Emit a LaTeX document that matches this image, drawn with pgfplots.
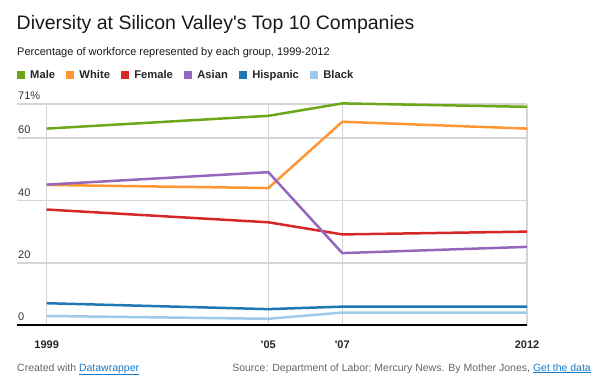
\documentclass[border=0pt]{standalone}
\usepackage{pgfplots}
\pgfplotsset{compat=1.18}
\usepackage{fontspec}
\setmainfont{Liberation Sans}
\definecolor{cMale}{HTML}{6AA819}
\definecolor{cWhite}{HTML}{FF9632}
\definecolor{cFemale}{HTML}{D62728}
\definecolor{cAsian}{HTML}{9467BD}
\definecolor{cHisp}{HTML}{1F77B4}
\definecolor{cBlack}{HTML}{9ECAE9}
\definecolor{gridc}{HTML}{D5D5D5}
\definecolor{linkc}{HTML}{1A7AC4}
\definecolor{foot}{HTML}{666666}
\begin{document}
\begin{tikzpicture}
\useasboundingbox (0,0) rectangle (599bp,-388bp);
\begin{axis}[
 at={(17bp,-325bp)}, anchor=south west,
 scale only axis, width=510bp, height=221bp,
 xmin=1998.196, xmax=2012, ymin=0, ymax=71,
 clip=false,
 axis line style={draw=none},
 major tick length=0pt,
 xtick={1999,2005,2007,2012},
 xticklabels={1999,\textquotesingle05,\textquotesingle07,2012},
 ytick={20,40,60,71},
 yticklabels={20,40,60,71\%},
 extra y ticks={0}, extra y tick labels={0},
 extra y tick style={grid style={black, line width=1.5bp}},
 grid style={gridc, line width=1.5bp},
 xmajorgrids, ymajorgrids,
 xticklabel style={font=\fontsize{11bp}{13bp}\selectfont\bfseries, text=black!85, anchor=north, inner sep=0pt, yshift=-16bp},
 yticklabel style={font=\fontsize{11bp}{13bp}\selectfont, text=black!80, anchor=south west, inner sep=0pt, xshift=1bp, yshift=4bp},
 legend columns=6,
 legend style={at={(0,1.130)}, anchor=west, draw=none, fill=none, inner sep=0pt,
   nodes={inner sep=0pt},
   font=\fontsize{11.2bp}{13bp}\selectfont\bfseries, text=black!85,
   /tikz/every even column/.append style={column sep=11.4bp},
   /tikz/every odd column/.append style={column sep=5bp},
   cells={anchor=west}},
 legend image code/.code={\fill[#1, draw=none] (0bp,-4bp) rectangle (8bp,4bp);},
]
\addplot[cMale, line width=2.5bp] coordinates {(1999,63.1) (2005,67.2) (2007,71.2) (2012,70.1)};
\addlegendentry{Male}
\addplot[cWhite, line width=2.5bp] coordinates {(1999,45) (2005,44) (2007,65.3) (2012,63.1)};
\addlegendentry{White}
\addplot[cFemale, line width=2.5bp] coordinates {(1999,37.1) (2005,33) (2007,29.1) (2012,30)};
\addlegendentry{Female}
\addplot[cAsian, line width=2.5bp] coordinates {(1999,45.1) (2005,49.1) (2007,23.1) (2012,25.1)};
\addlegendentry{Asian}
\addplot[cHisp, line width=2.5bp] coordinates {(1999,7) (2005,5.1) (2007,5.9) (2012,5.9)};
\addlegendentry{Hispanic}
\addplot[cBlack, line width=2.5bp] coordinates {(1999,2.9) (2005,2) (2007,4) (2012,4)};
\addlegendentry{Black}
\end{axis}
\node[anchor=base west, inner sep=0pt, font=\fontsize{19.5bp}{22bp}\selectfont, text=black!90] at (16.5bp,-29.3bp) {Diversity at Silicon Valley\textquotesingle s Top 10 Companies};
\node[anchor=base west, inner sep=0pt, font=\fontsize{11bp}{13bp}\selectfont, text=black!90] at (17bp,-55.5bp) {Percentage of workforce represented by each group, 1999-2012};
\node[anchor=base west, inner sep=0pt, font=\fontsize{10.5bp}{12bp}\selectfont, text=foot] at (17bp,-371bp) {Created with \textcolor{linkc}{\underline{Datawrapper}}};
\node[anchor=base east, inner sep=0pt, font=\fontsize{10.5bp}{12bp}\selectfont, text=foot] at (591bp,-371bp) {Source: Department of Labor; Mercury News. By Mother Jones, \textcolor{linkc}{\underline{Get the data}}};
\end{tikzpicture}
\end{document}
